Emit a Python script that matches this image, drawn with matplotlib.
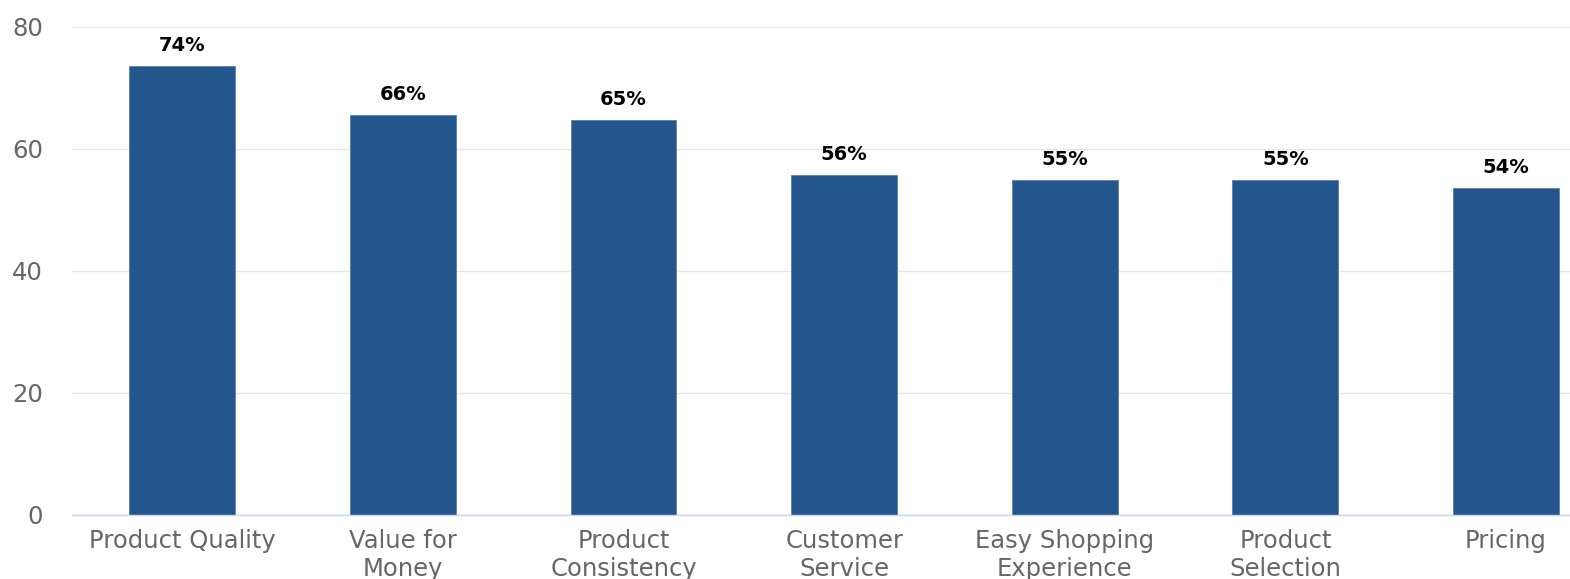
import matplotlib
matplotlib.use("Agg")
import matplotlib.pyplot as plt
import numpy as np

# survey results
categories = ["Product Quality", "Value for\nMoney", "Product\nConsistency",
              "Customer\nService", "Easy Shopping\nExperience", "Product\nSelection",
              "Pricing"]
values = [73.6, 65.6, 64.7, 55.7, 54.9, 54.9, 53.6]
yticks = [0, 20, 40, 60, 80]

bar_color = "#24568e"
text_gray = "#666666"

fig = plt.figure(figsize=(15.7, 5.79), dpi=100)
ax = fig.add_axes([72 / 1570, 64 / 579, 1 - 72 / 1570, (515 - 27) / 579])

x = np.arange(len(categories))
bars = ax.bar(x, values, width=0.48, color=bar_color, edgecolor="#5b7fae",
              linewidth=0.6, zorder=3)

for b, v in zip(bars, values):
    ax.annotate(f"{round(v)}%", (b.get_x() + b.get_width() / 2, v),
                xytext=(0, 8), textcoords="offset points",
                ha="center", va="bottom", fontsize=14, fontweight="bold",
                color="#000000")

ax.set_xlim(-0.5, 6.29)
ax.set_ylim(0, 80)
ax.set_yticks(yticks)
ax.set_xticks(x)
ax.set_xticklabels(categories, fontsize=17.5, color=text_gray, linespacing=1.2)
ax.tick_params(axis="y", length=0, pad=21, labelsize=17.5, labelcolor=text_gray)
ax.tick_params(axis="x", length=0, pad=10)

ax.grid(axis="y", color="#e6e6e6", linewidth=1, zorder=0)
for s in ["top", "right", "left"]:
    ax.spines[s].set_visible(False)
ax.spines["bottom"].set_color("#ccd6eb")
ax.spines["bottom"].set_linewidth(1)
ax.spines["bottom"].set_zorder(4)

fig.savefig("out.png", dpi=100)
